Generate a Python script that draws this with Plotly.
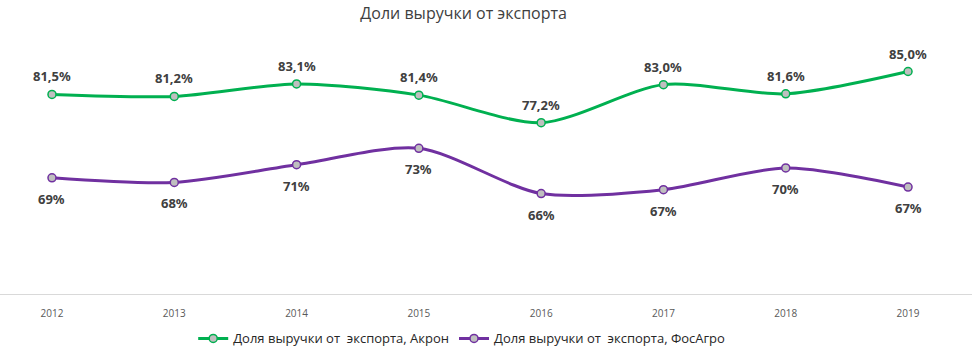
import plotly.graph_objects as go

years = [2012, 2013, 2014, 2015, 2016, 2017, 2018, 2019]
akron = [81.5, 81.2, 83.1, 81.4, 77.2, 83.0, 81.6, 85.0]
phosagro = [68.8, 68.1, 70.8, 73.3, 66.4, 67.0, 70.3, 67.4]
name_akron = "Доля выручки от\u00a0 экспорта, Акрон"
name_phos = "Доля выручки от\u00a0 экспорта, ФосАгро"
title = "Доли выручки от экспорта"

green = "#00b050"
purple = "#7030a0"
label_font = dict(family="Noto Sans", size=13, color="#404040", weight="bold")

fig = go.Figure()
fig.add_trace(go.Scatter(
    x=years, y=akron, name=name_akron, mode="lines+markers",
    line=dict(color=green, width=3, shape="spline", smoothing=0.8),
    marker=dict(size=8, color="#bfbfbf", line=dict(color=green, width=1.5)),
))
fig.add_trace(go.Scatter(
    x=years, y=phosagro, name=name_phos, mode="lines+markers",
    line=dict(color=purple, width=3, shape="spline", smoothing=0.8),
    marker=dict(size=8, color="#bfbfbf", line=dict(color=purple, width=1.5)),
))

for x, v in zip(years, akron):
    fig.add_annotation(x=x, y=v, text=f"{v:.1f}%".replace(".", ","), showarrow=False,
                       yshift=18, font=label_font)
for x, v in zip(years, phosagro):
    fig.add_annotation(x=x, y=v, text=f"{v:.0f}%", showarrow=False,
                       yshift=-21, font=label_font)

fig.update_layout(
    width=972, height=354,
    margin=dict(l=0, r=0, t=40, b=56),
    paper_bgcolor="white", plot_bgcolor="white",
    title=dict(text=title, x=0.477, xanchor="center", y=0.962, yanchor="middle",
               font=dict(family="Open Sans", size=16, color="#404040")),
    showlegend=True,
    legend=dict(orientation="h", x=0.475, xanchor="center", y=-0.175, yanchor="middle",
                font=dict(family="Open Sans", size=13, color="#262626"),
                itemwidth=30, tracegroupgap=0),
    xaxis=dict(range=[2011.575, 2019.523], tickmode="array", tickvals=years,
               ticktext=[str(y) for y in years], showgrid=False, zeroline=False,
               showline=True, linecolor="#d9d9d9", linewidth=1,
               ticklabelstandoff=10,
               tickfont=dict(family="Open Sans", size=10, color="#595959"), ticks=""),
    yaxis=dict(range=[51.1, 89.8], visible=False, showgrid=False, zeroline=False),
)

fig.write_html("out.html")
